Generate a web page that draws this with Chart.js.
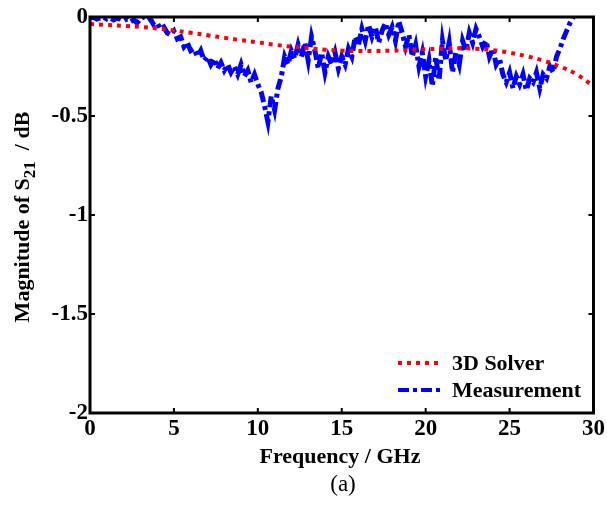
<!DOCTYPE html>
<html>
<head>
<meta charset="utf-8">
<script src="https://cdn.jsdelivr.net/npm/chart.js@4/dist/chart.umd.min.js"></script>
<style>
  html, body { margin: 0; padding: 0; background: #fff; }
  #wrap { width: 607px; height: 506px; }
</style>
</head>
<body>
<div id="wrap"><canvas id="s21Chart" width="607" height="506"></canvas></div>
<script>
// 数据
const solverFreq = [0, 1, 2, 3, 4, 5, 6, 7, 8, 9, 10, 11, 12, 13, 14, 15, 16, 17, 18, 19, 20,
    21, 22, 23, 24, 25, 26, 27, 28, 29, 30];
const solverS21 = [-0.035, -0.04, -0.045, -0.05, -0.058, -0.068, -0.08, -0.092, -0.105, -0.117, -0.128,
    -0.14, -0.15, -0.158, -0.165, -0.17, -0.172, -0.172, -0.17, -0.167, -0.163,
    -0.16, -0.158, -0.16, -0.168, -0.18, -0.198, -0.22, -0.25, -0.29, -0.35];

const measFreq = [
    0, 0.2, 0.4, 0.6, 0.8, 1, 1.2, 1.4, 1.6, 1.8, 2, 2.2, 2.4, 2.6, 2.8,
    3, 3.2, 3.4, 3.6, 3.8, 4, 4.2, 4.4, 4.6, 4.8, 5, 5.2, 5.4, 5.6, 5.8,
    6, 6.2, 6.4, 6.6, 6.8, 7, 7.2, 7.4, 7.6, 7.8, 8, 8.2, 8.4, 8.6, 8.8,
    9, 9.2, 9.4, 9.6, 9.8, 10, 10.2, 10.4, 10.6, 10.8, 11, 11.2, 11.4, 11.6, 11.8,
    12, 12.2, 12.4, 12.6, 12.8, 13, 13.2, 13.4, 13.6, 13.8, 14, 14.2, 14.4, 14.6, 14.8,
    15, 15.2, 15.4, 15.6, 15.8, 16, 16.2, 16.4, 16.6, 16.8, 17, 17.2, 17.4, 17.6, 17.8,
    18, 18.2, 18.4, 18.6, 18.8, 19, 19.2, 19.4, 19.6, 19.8, 20, 20.2, 20.4, 20.6, 20.8,
    21, 21.2, 21.4, 21.6, 21.8, 22, 22.2, 22.4, 22.6, 22.8, 23, 23.2, 23.4, 23.6, 23.8,
    24, 24.2, 24.4, 24.6, 24.8, 25, 25.2, 25.4, 25.6, 25.8, 26, 26.2, 26.4, 26.6, 26.8,
    27, 27.2, 27.4, 27.6, 27.8, 28, 28.2, 28.4, 28.6, 28.8];
const measS21 = [
    -0.005, 0, -0.01, -0.005, 0, -0.01, -0.005, -0.015, -0.005, -0.01, -0.02, -0.01, -0.025, -0.015, -0.03,
    -0.01, 0, -0.02, -0.01, -0.04, -0.03, -0.06, -0.05, -0.08, -0.09, -0.07, -0.11, -0.1, -0.15, -0.13,
    -0.17, -0.16, -0.2, -0.17, -0.22, -0.2, -0.24, -0.21, -0.26, -0.23, -0.27, -0.24, -0.28, -0.25, -0.29,
    -0.24, -0.3, -0.27, -0.33, -0.29, -0.34, -0.38, -0.45, -0.53, -0.4, -0.47, -0.36, -0.3, -0.2, -0.24,
    -0.17, -0.21, -0.14, -0.2, -0.13, -0.22, -0.1, -0.17, -0.26, -0.18, -0.28, -0.2, -0.24, -0.18, -0.26,
    -0.2, -0.24, -0.16, -0.2, -0.1, -0.14, -0.06, -0.12, -0.04, -0.1, -0.05, -0.13, -0.07, -0.03, -0.09,
    -0.05, -0.12, -0.02, -0.08, -0.15, -0.09, -0.2, -0.14, -0.25, -0.18, -0.3, -0.22, -0.35, -0.2, -0.32,
    -0.12, -0.22, -0.13, -0.28, -0.18, -0.24, -0.12, -0.17, -0.08, -0.13, -0.06, -0.1, -0.15, -0.12, -0.2,
    -0.16, -0.24, -0.21, -0.29, -0.33, -0.28, -0.36, -0.3, -0.34, -0.29, -0.37, -0.31, -0.33, -0.28, -0.36,
    -0.29, -0.31, -0.25, -0.28, -0.2, -0.16, -0.11, -0.07, -0.03, 0];

const xTicks = [0, 5, 10, 15, 20, 25, 30];
const yTicks = [0, -0.5, -1, -1.5, -2];

const seriesNames = ['3D Solver', 'Measurement'];
const xTitle = 'Frequency / GHz';
const caption = '(a)';

const serifFamily = '"Liberation Serif", "Times New Roman", serif';
const titleFont = 'bold 22px ' + serifFamily;
const subFont = 'bold 17px ' + serifFamily;

function toPoints(xs, ys) {
    return xs.map((x, i) => ({ x: x, y: ys[i] }));
}

// 边框、内向刻度、标题和图例
const framePlugin = {
    id: 'frame',
    afterDraw(chart) {
        const ctx = chart.ctx;
        const { left, right, top, bottom } = chart.chartArea;
        const xs = chart.scales.x;
        const ys = chart.scales.y;
        ctx.save();
        ctx.strokeStyle = '#000';
        ctx.lineWidth = 3;
        ctx.strokeRect(left, top, right - left, bottom - top);

        // inward ticks
        ctx.lineWidth = 2;
        ctx.beginPath();
        xTicks.forEach(v => {
            const px = xs.getPixelForValue(v);
            ctx.moveTo(px, bottom); ctx.lineTo(px, bottom - 5);
            ctx.moveTo(px, top); ctx.lineTo(px, top + 5);
        });
        yTicks.forEach(v => {
            const py = ys.getPixelForValue(v);
            ctx.moveTo(left, py); ctx.lineTo(left + 5, py);
            ctx.moveTo(right, py); ctx.lineTo(right - 5, py);
        });
        ctx.stroke();

        // x title + caption
        ctx.fillStyle = '#000';
        ctx.textAlign = 'center';
        ctx.textBaseline = 'alphabetic';
        ctx.font = titleFont;
        ctx.fillText(xTitle, 340, 463);
        ctx.font = '23px ' + serifFamily;
        ctx.fillText(caption, 343, 491);

        // y title with subscript
        ctx.save();
        ctx.translate(29, 217);
        ctx.rotate(-Math.PI / 2);
        const part1 = 'Magnitude of S';
        const sub = '21';
        const part2 = '  / dB';
        ctx.font = titleFont;
        const w1 = ctx.measureText(part1).width;
        const w3 = ctx.measureText(part2).width;
        ctx.font = subFont;
        const w2 = ctx.measureText(sub).width;
        const total = w1 + w2 + w3;
        let cx = -total / 2;
        ctx.textAlign = 'left';
        ctx.font = titleFont;
        ctx.fillText(part1, cx, 0);
        cx += w1;
        ctx.font = subFont;
        ctx.fillText(sub, cx, 6);
        cx += w2;
        ctx.font = titleFont;
        ctx.fillText(part2, cx, 0);
        ctx.restore();

        // legend
        const ds = chart.data.datasets;
        const rows = [370, 397];
        ds.forEach((d, i) => {
            const ly = rows[i] - 7;
            ctx.beginPath();
            ctx.strokeStyle = d.borderColor;
            ctx.lineWidth = 4;
            ctx.setLineDash(d.borderDash);
            ctx.moveTo(398, ly);
            ctx.lineTo(443, ly);
            ctx.stroke();
            ctx.setLineDash([]);
            ctx.fillStyle = '#000';
            ctx.textAlign = 'left';
            ctx.font = titleFont;
            ctx.fillText(d.label, 452, rows[i]);
        });
        ctx.restore();
    }
};

const ctx = document.getElementById('s21Chart').getContext('2d');
const s21Chart = new Chart(ctx, {
    type: 'line',
    data: {
        datasets: [
            {
                label: seriesNames[0],
                data: toPoints(solverFreq, solverS21),
                borderColor: '#ff0000',
                borderWidth: 4,
                borderDash: [4, 5],
                pointRadius: 0,
                tension: 0.4,
                fill: false
            },
            {
                label: seriesNames[1],
                data: toPoints(measFreq, measS21),
                borderColor: '#0000ff',
                borderWidth: 5,
                borderDash: [11, 4, 4, 4],
                pointRadius: 0,
                tension: 0,
                fill: false
            }
        ]
    },
    options: {
        responsive: false,
        animation: false,
        layout: { padding: { top: 17, right: 11, left: 0, bottom: 0 } },
        scales: {
            x: {
                type: 'linear',
                min: 0,
                max: 30,
                afterFit(scale) { scale.height = 93; },
                afterBuildTicks(scale) { scale.ticks = xTicks.map(v => ({ value: v })); },
                grid: { display: false, drawTicks: false },
                border: { display: false },
                ticks: {
                    color: '#000',
                    padding: 2,
                    maxRotation: 0,
                    autoSkip: false,
                    callback: v => String(v),
                    font: { family: serifFamily, size: 23, weight: 'bold' }
                }
            },
            y: {
                type: 'linear',
                min: -2,
                max: 0,
                afterFit(scale) { scale.width = 90; },
                afterBuildTicks(scale) { scale.ticks = yTicks.map(v => ({ value: v })); },
                grid: { display: false, drawTicks: false },
                border: { display: false },
                ticks: {
                    color: '#000',
                    padding: 2,
                    callback: v => String(v),
                    font: { family: serifFamily, size: 23, weight: 'bold' }
                }
            }
        },
        plugins: {
            legend: { display: false },
            tooltip: { enabled: false }
        }
    },
    plugins: [framePlugin]
});
</script>
</body>
</html>
